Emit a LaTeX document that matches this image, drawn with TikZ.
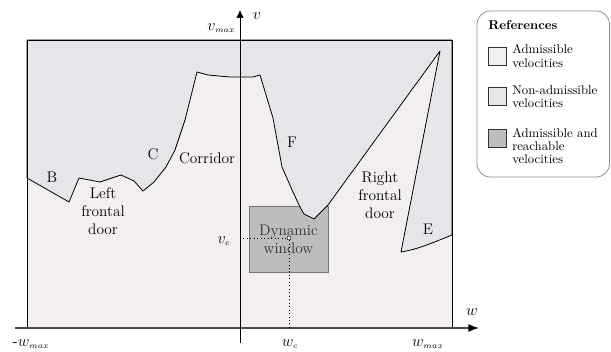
\documentclass[tikz,border=0pt]{standalone}
\usepackage{amsmath}
\usepackage{tikz}
\usetikzlibrary{positioning,arrows.meta,calc}

\definecolor{admcol}{RGB}{243,239,239}
\definecolor{nadmcol}{RGB}{228,230,233}
\definecolor{dwcol}{RGB}{189,189,190}

\begin{document}
\begin{tikzpicture}[x=0.75pt,y=-0.75pt,
  lbl/.style={font=\fontsize{11.5}{13.5}\selectfont,align=center,inner sep=0pt},
  axlbl/.style={font=\fontsize{12}{14}\selectfont,inner sep=1pt},
  reftxt/.style={font=\fontsize{9.6}{9.8}\selectfont,align=left,anchor=west,inner sep=0pt},
  swatch/.style={draw=black!80,line width=0.8pt,minimum size=14pt,inner sep=0pt}]
\useasboundingbox (0,0) rectangle (611,352);
% ---- velocity space ----
\fill[admcol] (27,40) rectangle (452,328);
\node[draw=black!55,line width=0.6pt,fill=dwcol,minimum width=59.25pt,minimum height=49.5pt,inner sep=0pt] (dw) at (288.5,239) {};
\draw[fill=nadmcol,line width=0.6pt,line join=round] (27,40) -- (27,178) -- (69,202) -- (79,178) -- (100,182) -- (121,175) -- (134,181) -- (143,191) -- (154,182) -- (166,167) -- (175,150) -- (185,120) -- (197,72) -- (208,75) -- (230,77) -- (253,77) -- (260,75) -- (273,118) -- (282,167) -- (293,192) -- (300,207) -- (304,214) -- (314,219) -- (328,205) -- (440,51) -- (401,252) .. controls (415,250) and (430,244) .. (452,235) -- (452,40) -- cycle;
\draw[line width=0.6pt] (27,328) -- (27,40) -- (452,40) -- (452,328);
% ---- axes ----
\coordinate (wneg) at (15,328);
\coordinate (wpos) at (479,328);
\coordinate (vneg) at (240,343);
\coordinate (vpos) at (240,10);
\draw[black!70,line width=1.1pt,-{Latex[length=8pt,width=6pt,black]}] (wneg) -- (wpos);
\draw[line width=0.5pt,-{Latex[length=6pt,width=5.5pt]}] (vneg) -- (vpos);
\node[axlbl] (vlbl) at (257,16) {$v$};
\node[axlbl,anchor=east] (vmax) at (237,28) {$v_{\scriptscriptstyle max}$};
\node[axlbl] (wlbl) at (472,312) {$w$};
\node[axlbl] (wmin) at (31,344) {-$w_{\scriptscriptstyle max}$};
\node[axlbl] (wmax) at (428,344) {$w_{\scriptscriptstyle max}$};
% ---- current velocity ----
\coordinate (vcax) at (240,238);
\coordinate (wcax) at (289,328);
\node[circle,draw,fill=white,inner sep=0pt,minimum size=3pt,line width=0.4pt] (cur) at (289,238) {};
\draw[dotted,line width=0.6pt] (vcax) -- (cur);
\draw[dotted,line width=0.6pt] (cur) -- (wcax);
\node[axlbl] (vc) at (224,241) {$v_{\scriptscriptstyle c}$};
\node[axlbl] (wc) at (290,344) {$w_{\scriptscriptstyle c}$};
\node[lbl,text=black!80] (dwlbl) at (dw.center) {Dynamic\\window};
% ---- region labels ----
\node[lbl] (B) at (52,177) {B};
\node[lbl] (C) at (153,154) {C};
\node[lbl] (F) at (292,142) {F};
\node[lbl] (E) at (428,229) {E};
\node[lbl] (corr) at (207,158) {Corridor};
\node[lbl] (lfd) at (103,211) {Left\\frontal\\door};
\node[lbl] (rfd) at (380,195) {Right\\frontal\\door};
% ---- references ----
\draw[black!45,line width=0.6pt,rounded corners=10pt] (477,11) rectangle (609.5,177);
\node[reftxt,font=\fontsize{9.6}{9.8}\selectfont\bfseries] (refhead) at (488,25) {References};
\node[swatch,fill=admcol] (sadm) at (497.5,56.5) {};
\node[swatch,fill=nadmcol] (snadm) at (497.5,96.5) {};
\node[swatch,fill=dwcol] (sdw) at (497.5,138.5) {};
\node[reftxt] (tadm) at (512,56) {Admissible\\velocities};
\node[reftxt] (tnadm) at (512,97) {Non-admissible\\velocities};
\node[reftxt] (tdw) at (512,146) {Admissible and\\reachable\\velocities};
\end{tikzpicture}
\end{document}
